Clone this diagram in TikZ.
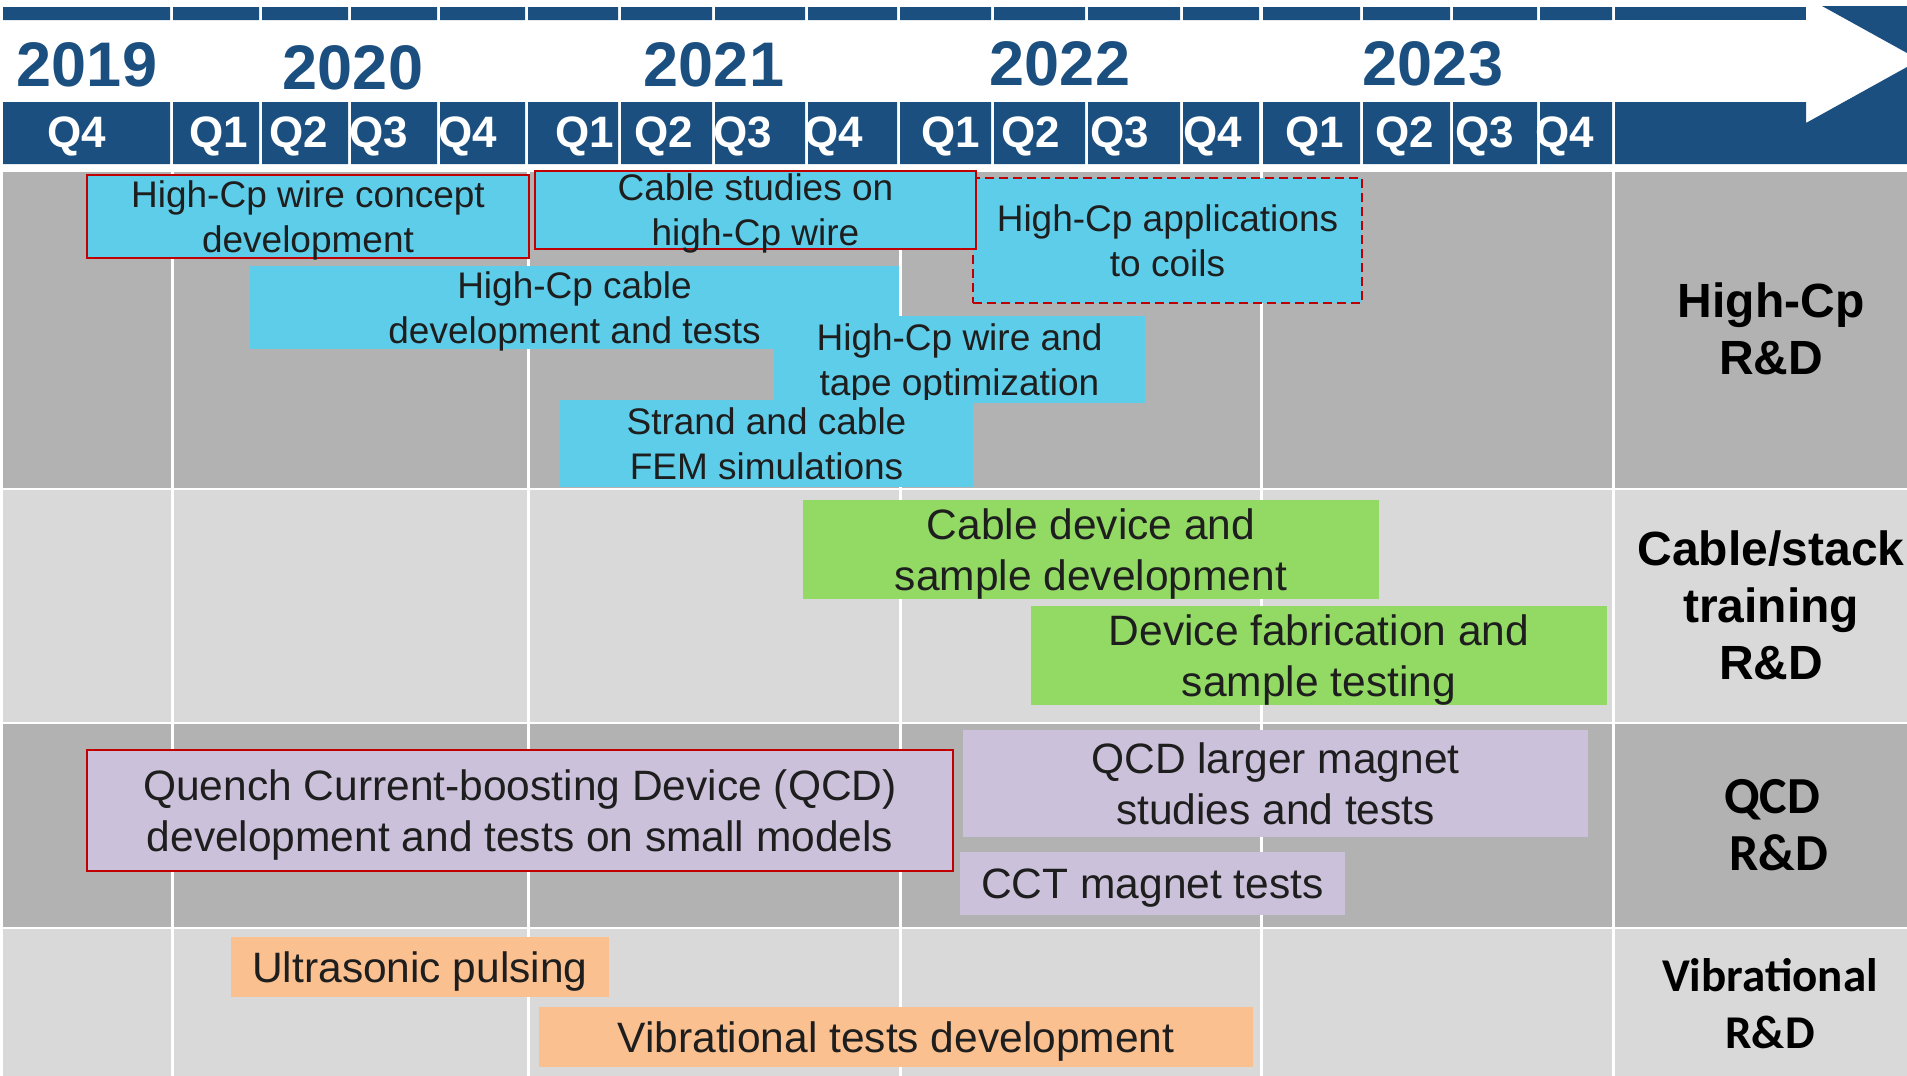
\documentclass[tikz,border=0pt]{standalone}
\usepackage{fontspec}
\setmainfont{Liberation Sans}
\newfontfamily\calfont{Carlito}

\definecolor{hdrblue}{HTML}{1B4F80}
\definecolor{darkrow}{HTML}{B2B2B2}
\definecolor{lightrow}{HTML}{D9D9D9}
\definecolor{boxcyan}{HTML}{5ECDE9}
\definecolor{boxgreen}{HTML}{92DA64}
\definecolor{boxlav}{HTML}{CCC1DA}
\definecolor{boxorange}{HTML}{FAC090}
\definecolor{redline}{HTML}{C00000}
\definecolor{tasktext}{HTML}{1E1E1E}

\begin{document}
\begin{tikzpicture}[x=1pt,y=-1pt,
  qlab/.style={text=white,anchor=base,inner sep=0pt,font=\bfseries\fontsize{44}{50}\selectfont},
  yearlab/.style={text=hdrblue,anchor=base,inner sep=0pt,font=\bfseries\fontsize{63}{70}\selectfont},
  task/.style={inner sep=0pt,align=center,text=tasktext,text depth=0pt,font=\fontsize{42.5}{51}\selectfont},
  smalltask/.style={task,font=\fontsize{37}{45}\selectfont,fill=boxcyan},
  redframe/.style={draw=redline,line width=2.5pt},
  rowlab/.style={inner sep=0pt,align=center,font=\bfseries\fontsize{48}{57}\selectfont},
  callab/.style={inner sep=0pt,align=center,font=\calfont\bfseries\fontsize{#1}{57}\selectfont}]
\useasboundingbox (0,0) rectangle (1907,1076);

% \draw[color=gray,step=50,thin] (0,0) grid (1907,1076);

% header bars
\foreach \l/\r in {3/170,173/259,262/348,351/437,440/525,528/618,621/712,715/805,808/897,900/991,994/1085,1088/1180,1183/1259,1263/1360,1363/1450,1453/1537,1540/1612}
  \fill[hdrblue] (\l,7) rectangle (\r,20) (\l,102) rectangle (\r,164);
\fill[hdrblue] (1615,7) rectangle (1806,20);
\fill[hdrblue] (1822,6) -- (1907,6) -- (1907,53) -- cycle;
\fill[hdrblue] (1615,102) -- (1806,102) -- (1806,123) -- (1907,67) -- (1907,164) -- (1615,164) -- cycle;

\node[yearlab] (y2019) at (87,86) {2019};
\node[yearlab] (y2020) at (353,89) {2020};
\node[yearlab] (y2021) at (714,86) {2021};
\node[yearlab] (y2022) at (1060,85) {2022};
\node[yearlab] (y2023) at (1433,85) {2023};

\foreach \x/\q [count=\i] in {77/Q4,219/Q1,299/Q2,379/Q3,468/Q4,585/Q1,664/Q2,743/Q3,834/Q4,951/Q1,1031/Q2,1120/Q3,1213/Q4,1315/Q1,1405/Q2,1485/Q3,1565/Q4}
  \node[qlab] (q\i) at (\x,147) {\q};

% rows
\fill[darkrow] (3,172) rectangle (1907,488);
\fill[lightrow] (3,490) rectangle (1907,722);
\fill[darkrow] (3,724) rectangle (1907,927);
\fill[lightrow] (3,929) rectangle (1907,1076);
\foreach \x in {172,528,900,1261,1613}
  \draw[white,line width=3pt] (\x,172) -- (\x,1076);

% High-Cp R&D
\node[smalltask,redframe,dash pattern=on 9pt off 5pt,minimum width=389,minimum height=125] (coils) at (1167.5,240.5) {High-Cp applications\\to coils};
\node[smalltask,redframe,minimum width=442,minimum height=83] (concept) at (308,216.5) {High-Cp wire concept\\development};
\node[smalltask,redframe,minimum width=441,minimum height=78] (studies) at (755.5,210) {Cable studies on\\high-Cp wire};
\node[smalltask,minimum width=649,minimum height=83] (cable) at (574.5,307.5) {High-Cp cable\\development and tests};
\node[smalltask,minimum width=371,minimum height=87] (tape) at (959.5,359.5) {High-Cp wire and\\tape optimization};
\node[smalltask,minimum width=413,minimum height=87] (fem) at (766.5,443.5) {Strand and cable\\FEM simulations};

% Cable/stack training R&D
\node[task,fill=boxgreen,minimum width=576,minimum height=99] (device) at (1091,549.5) {Cable device and\\sample development};
\node[task,fill=boxgreen,minimum width=576,minimum height=99] (fab) at (1319,655.5) {Device fabrication and\\sample testing};

% QCD R&D
\node[task,fill=boxlav,redframe,minimum width=866,minimum height=121] (qcd) at (520,810.5) {Quench Current-boosting Device (QCD)\\development and tests on small models};
\node[task,fill=boxlav,minimum width=625,minimum height=107] (larger) at (1275.5,783.5) {QCD larger magnet\\studies and tests};
\node[task,fill=boxlav,minimum width=385,minimum height=63] (cct) at (1152.5,883.5) {CCT magnet tests};

% Vibrational R&D
\node[task,fill=boxorange,minimum width=378,minimum height=60] (ultra) at (420,967) {Ultrasonic pulsing};
\node[task,fill=boxorange,minimum width=714,minimum height=60] (vib) at (896,1037) {Vibrational tests development};

% row labels
\node[rowlab] (lab1) at (1771,329) {High-Cp\\R\&D};
\node[rowlab] (lab2) at (1771,605.5) {Cable/stack\\training\\R\&D};
\node[callab=52] (lab3) at (1772,825) {QCD\\\hspace*{14pt}R\&D};
\node[callab=47] (lab4) at (1770,1003.5) {Vibrational\\R\&D};

\end{tikzpicture}
\end{document}
